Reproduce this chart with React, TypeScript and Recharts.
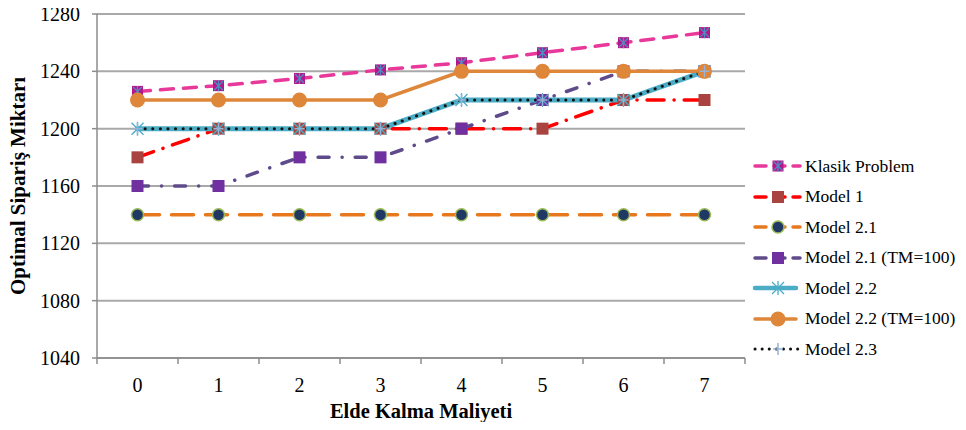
import React from "react";
import { LineChart, Line, XAxis, YAxis, CartesianGrid } from "recharts";

const CATEGORIES = ["0", "1", "2", "3", "4", "5", "6", "7"];
const Y_TICKS = [1040, 1080, 1120, 1160, 1200, 1240, 1280];

const KLASIK = [1226, 1230, 1235, 1241, 1246, 1253, 1260, 1267];
const MODEL_1 = [1180, 1200, 1200, 1200, 1200, 1200, 1220, 1220];
const MODEL_21 = [1140, 1140, 1140, 1140, 1140, 1140, 1140, 1140];
const MODEL_21_TM = [1160, 1160, 1180, 1180, 1200, 1220, 1240, 1240];
const MODEL_22 = [1200, 1200, 1200, 1200, 1220, 1220, 1220, 1240];
const MODEL_22_TM = [1220, 1220, 1220, 1220, 1240, 1240, 1240, 1240];
const MODEL_23 = [1200, 1200, 1200, 1200, 1220, 1220, 1220, 1240];

const FONT = '"Liberation Serif", "Times New Roman", serif';
const GRID = "#A9A9A9";
const AXIS = "#8C8C8C";
const HALF_BAND = 40.5;

const data = CATEGORIES.map((c, i) => ({
  cat: c,
  klasik: KLASIK[i],
  m1: MODEL_1[i],
  m21: MODEL_21[i],
  m21tm: MODEL_21_TM[i],
  m22: MODEL_22[i],
  m22tm: MODEL_22_TM[i],
  m23: MODEL_23[i],
}));

type MarkerKind = "klasik" | "m1" | "m21" | "m21tm" | "m22" | "m22tm" | "m23";

const Marker = ({ kind, cx, cy }: { kind: MarkerKind; cx: number; cy: number }) => {
  switch (kind) {
    case "klasik":
      return (
        <g>
          <rect x={cx - 5.5} y={cy - 5.5} width={11} height={11} fill="#B0188C" />
          <path
            d={`M${cx - 4.5},${cy - 4.5}L${cx + 4.5},${cy + 4.5}M${cx + 4.5},${cy - 4.5}L${cx - 4.5},${cy + 4.5}M${cx},${cy - 5.5}L${cx},${cy + 5.5}`}
            stroke="#4E8CC2"
            strokeWidth={1.3}
          />
        </g>
      );
    case "m1":
      return <rect x={cx - 6} y={cy - 6} width={12} height={12} fill="#A8433F" />;
    case "m21":
      return <circle cx={cx} cy={cy} r={6} fill="#1F3864" stroke="#9BBB59" strokeWidth={1.5} />;
    case "m21tm":
      return <rect x={cx - 6} y={cy - 6} width={12} height={12} fill="#7030A0" />;
    case "m22":
      return (
        <path
          d={`M${cx - 6},${cy - 6}L${cx + 6},${cy + 6}M${cx + 6},${cy - 6}L${cx - 6},${cy + 6}M${cx},${cy - 7}L${cx},${cy + 7}`}
          stroke="#4BACC6"
          strokeWidth={1.3}
        />
      );
    case "m22tm":
      return <circle cx={cx} cy={cy} r={7.5} fill="#DE8639" />;
    case "m23":
      return (
        <path
          d={`M${cx - 5},${cy}L${cx + 5},${cy}M${cx},${cy - 6}L${cx},${cy + 6}`}
          stroke="#95B3D7"
          strokeWidth={1.5}
        />
      );
  }
  return null;
};

const dotFor = (kind: MarkerKind) => (p: any) =>
  <Marker key={`${kind}-${p.index}`} kind={kind} cx={p.cx} cy={p.cy} />;

const SERIES: { key: MarkerKind; name: string; color: string; width: number; dash?: string }[] = [
  { key: "klasik", name: "Klasik Problem", color: "#E8399A", width: 3.5, dash: "13 10" },
  { key: "m1", name: "Model 1", color: "#FF0000", width: 3.5, dash: "17 10 0.1 10" },
  { key: "m21", name: "Model 2.1", color: "#E8781E", width: 3.5, dash: "22 12" },
  { key: "m21tm", name: "Model 2.1 (TM=100)", color: "#5F4B8B", width: 3.5, dash: "11 13 0.1 13" },
  { key: "m22", name: "Model 2.2", color: "#4BACC6", width: 5 },
  { key: "m22tm", name: "Model 2.2 (TM=100)", color: "#DE8639", width: 3.5 },
  { key: "m23", name: "Model 2.3", color: "#111111", width: 3, dash: "0.1 7.5" },
];

const XTick = (props: any) => {
  const { x, y, payload, index } = props;
  return (
    <g>
      <line x1={x - HALF_BAND} y1={y} x2={x - HALF_BAND} y2={y + 6} stroke={AXIS} strokeWidth={1.5} />
      {index === CATEGORIES.length - 1 && (
        <line x1={x + HALF_BAND} y1={y} x2={x + HALF_BAND} y2={y + 6} stroke={AXIS} strokeWidth={1.5} />
      )}
      <text x={x} y={y + 34} textAnchor="middle" fill="#000" fontSize={20} fontFamily={FONT}>
        {payload.value}
      </text>
    </g>
  );
};

const LegendBox = () => (
  <div style={{ position: "absolute", left: 752, top: 151, fontFamily: FONT, fontSize: 17.5, whiteSpace: "nowrap" }}>
    {SERIES.map((s) => (
      <div key={s.key} style={{ display: "flex", alignItems: "center", height: 30.5 }}>
        <svg width={53} height={20}>
          <line
            x1={3}
            y1={10}
            x2={s.dash ? 48 : 44}
            y2={10}
            stroke={s.color}
            strokeWidth={s.width > 4 ? 4.5 : s.width}
            strokeDasharray={s.dash ? (s.key === "m23" ? "0.1 7" : "11 8") : undefined}
            strokeLinecap="round"
          />
          <Marker kind={s.key} cx={26} cy={10} />
        </svg>
        <span style={{ color: "#000" }}>{s.name}</span>
      </div>
    ))}
  </div>
);

export default function App() {
  return (
    <div style={{ position: "relative", width: 966, height: 430, margin: -8, background: "#fff" }}>
      <LineChart width={966} height={430} data={data} margin={{ top: 14, right: 221, left: 0, bottom: 0 }}>
        <CartesianGrid vertical={false} stroke={GRID} strokeWidth={2} />
        <XAxis
          dataKey="cat"
          padding={{ left: HALF_BAND, right: HALF_BAND }}
          height={72}
          axisLine={{ stroke: AXIS, strokeWidth: 1.5 }}
          tickLine={false}
          tickSize={0}
          tickMargin={0}
          tick={<XTick />}
          interval={0}
          label={{
            value: "Elde Kalma Maliyeti",
            position: "insideBottom",
            offset: 12,
            style: { fontFamily: FONT, fontSize: 20.5, fontWeight: "bold", fill: "#000" },
          }}
        />
        <YAxis
          width={97}
          domain={[1040, 1280]}
          ticks={Y_TICKS}
          interval={0}
          axisLine={{ stroke: AXIS, strokeWidth: 1.5 }}
          tickLine={{ stroke: AXIS, strokeWidth: 1.5 }}
          tickSize={5}
          tickMargin={12}
          tick={{ fill: "#000", fontSize: 20, fontFamily: FONT }}
          label={{
            value: "Optimal Sipariş Miktarı",
            angle: -90,
            position: "insideLeft",
            offset: 18,
            style: { textAnchor: "middle", fontFamily: FONT, fontSize: 21, fontWeight: "bold", fill: "#000" },
          }}
        />
        {SERIES.map((s) => (
          <Line
            key={s.key}
            type="linear"
            dataKey={s.key}
            name={s.name}
            stroke={s.color}
            strokeWidth={s.width}
            strokeDasharray={s.dash}
            strokeLinecap="round"
            dot={dotFor(s.key)}
            activeDot={false}
            isAnimationActive={false}
          />
        ))}
      </LineChart>
      <LegendBox />
    </div>
  );
}
